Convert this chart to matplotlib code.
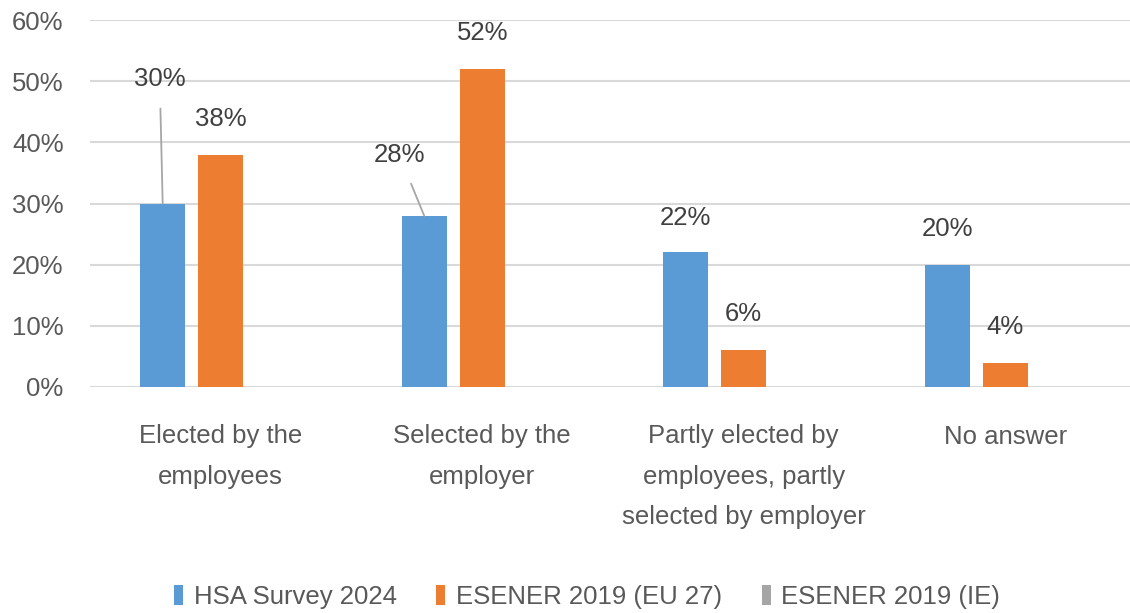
import numpy as np
import matplotlib
matplotlib.use("Agg")
import matplotlib.pyplot as plt
from matplotlib.ticker import PercentFormatter

plt.rcParams['font.family'] = ['Liberation Sans', 'DejaVu Sans']

categories = ["Elected by the\nemployees", "Selected by the\nemployer",
              "Partly elected by\nemployees, partly\nselected by employer", "No answer"]
series = ["HSA Survey 2024", "ESENER 2019 (EU 27)", "ESENER 2019 (IE)"]
hsa = [30, 28, 22, 20]
eu27 = [38, 52, 6, 4]
ie = [np.nan, np.nan, np.nan, np.nan]
colors = ["#5B9BD5", "#ED7D31", "#A5A5A5"]

# label offsets in pixels (dx, dy) from the bar top; leader lines where moved
hsa_offsets = [(-3, 125), (-25, 61), (0, 34), (0, 36)]
hsa_leader = [True, True, False, False]

W, H = 1130, 613
fig = plt.figure(figsize=(W / 100, H / 100), dpi=100)
ax = fig.add_axes([90 / W, (H - 387) / H, 1046 / W, (387 - 20) / H])

x = np.arange(len(categories))
bw = 0.172
step = 0.222
values = [hsa, eu27, ie]
for i, (vals, name, c) in enumerate(zip(values, series, colors)):
    ax.bar(x + (i - 1) * step, vals, width=bw, color=c, label=name, zorder=3)

label_col = "#404040"
fs = 18.5
for xi, v, off, lead in zip(x - step, hsa, hsa_offsets, hsa_leader):
    if lead:
        ax.annotate(f"{v}%", xy=(xi, v), xytext=off, textcoords="offset pixels",
                    ha="center", va="center", fontsize=fs, color=label_col,
                    arrowprops=dict(arrowstyle="-", color="#a6a6a6", lw=1.3,
                                    shrinkA=11, shrinkB=0))
    else:
        ax.annotate(f"{v}%", xy=(xi, v), xytext=off, textcoords="offset pixels",
                    ha="center", va="center", fontsize=fs, color=label_col)
for xi, v in zip(x, eu27):
    ax.annotate(f"{v}%", xy=(xi, v), xytext=(0, 36), textcoords="offset pixels",
                ha="center", va="center", fontsize=fs, color=label_col)

ax.set_xlim(-0.5, len(categories) - 0.5)
ax.set_ylim(0, 60)
ax.set_yticks(range(0, 61, 10))
ax.yaxis.set_major_formatter(PercentFormatter(decimals=0))
ax.set_xticks(x)
ax.set_xticklabels(categories, linespacing=1.85)
ax.tick_params(axis="both", length=0, labelsize=fs, labelcolor="#595959")
ax.tick_params(axis="y", pad=19)
ax.tick_params(axis="x", pad=27)
ax.grid(axis="y", color="#d9d9d9", lw=1.5, zorder=0)
for s in ax.spines.values():
    s.set_visible(False)

fig.legend(loc="center", bbox_to_anchor=(587 / W, 1 - 597 / H), ncol=3, frameon=False,
           fontsize=fs, labelcolor="#595959", handlelength=0.35, handleheight=0.8,
           handletextpad=0.4, columnspacing=1.55)

fig.savefig("out.png", dpi=100)
